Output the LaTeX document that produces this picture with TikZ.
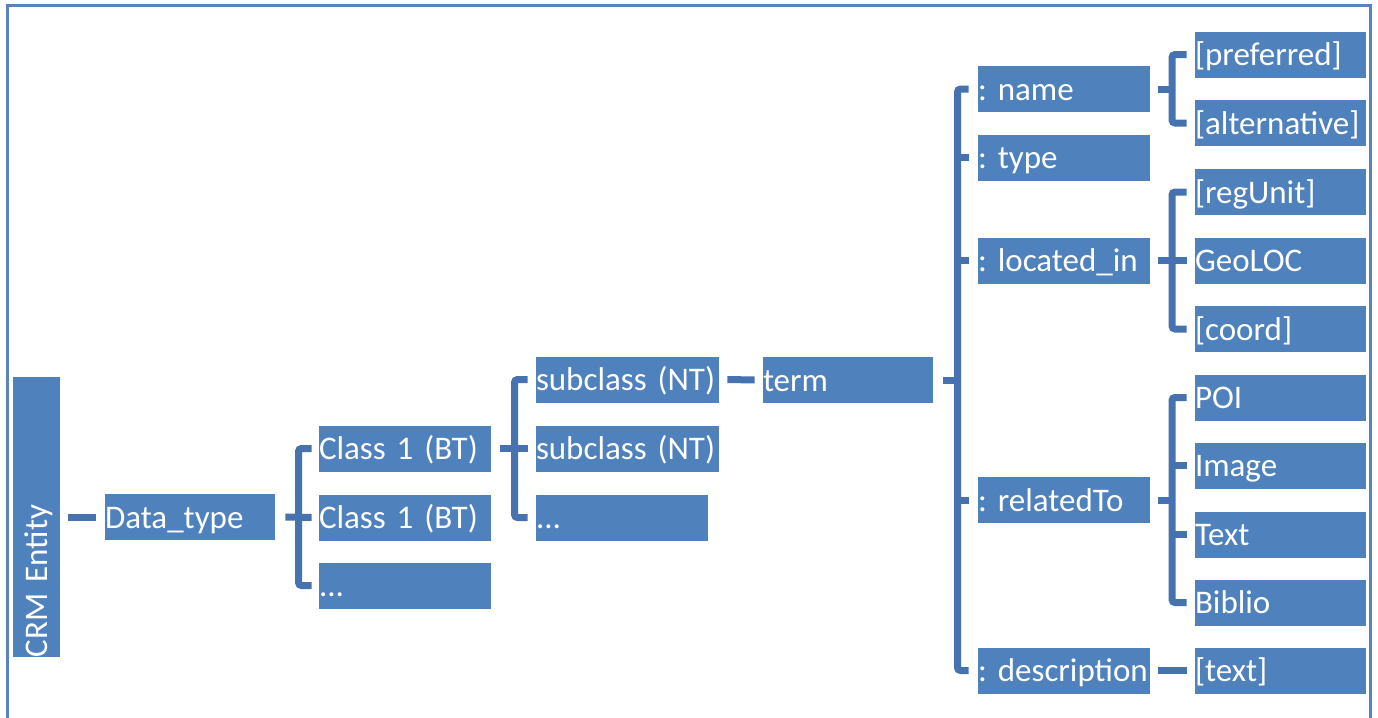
\documentclass[tikz,border=0pt]{standalone}
\usepackage{fontspec}
\setmainfont[WordSpace=0.7]{Carlito}
\frenchspacing
\hyphenpenalty=10000
\exhyphenpenalty=10000
\definecolor{boxblue}{HTML}{4F81BD}
\definecolor{brk}{HTML}{4672B0}
\definecolor{frm}{HTML}{5A82BC}
\tikzset{
  bx/.style={rectangle, fill=boxblue, text=white, inner xsep=0pt, inner ysep=0pt,
    minimum height=23pt, text height=13.5pt, text depth=2.5pt, align=left,
    font=\fontsize{16.5}{19}\selectfont},
  br/.style={draw=brk, line width=3.5pt, rounded corners=1.5pt},
  frame/.style={draw=frm, line width=1.5pt}
}
\begin{document}
\begin{tikzpicture}[x=0.5pt,y=-0.5pt]
\useasboundingbox (0,0) rectangle (1378,718);
\draw[frame] (7.5,720) -- (7.5,5.5) -- (1370,5.5) -- (1370,720);

% nodes
\node[bx, rotate=90, text width=140pt, minimum height=23.5pt] (crm) at (36.5,517) {CRM Entity};
\node[bx, text width=85pt] (dt) at (190,517) {Data\_type};
\node[bx, text width=86pt] (c1) at (405,448.5) {Class 1 (BT)};
\node[bx, text width=86pt] (c2) at (405,517.5) {Class 1 (BT)};
\node[bx, text width=86pt] (c3) at (405,585.5) {...};
\node[bx, text width=91.5pt] (s1) at (627.5,379.5) {subclass (NT)};
\node[bx, text width=91.5pt] (s2) at (627.5,448.5) {subclass (NT)};
\node[bx, text width=86pt] (s3) at (622,517.5) {...};
\node[bx, text width=85pt] (term) at (848,380) {term};

\node[bx, text width=86pt] (name) at (1064,89) {: name};
\node[bx, text width=86pt] (type) at (1064,157.5) {: type};
\node[bx, text width=86pt] (loc) at (1064,260.5) {: located\_in};
\node[bx, text width=86pt] (rel) at (1064,500) {: relatedTo};
\node[bx, text width=86pt] (desc) at (1064,670.5) {: description};

\node[bx, text width=85.5pt] (pref) at (1280.5,54.5) {[preferred]};
\node[bx, text width=85.5pt] (alt) at (1280.5,123) {[alternative]};
\node[bx, text width=85.5pt] (reg) at (1280.5,192) {[regUnit]};
\node[bx, text width=85.5pt] (geo) at (1280.5,260.5) {GeoLOC};
\node[bx, text width=85.5pt] (coord) at (1280.5,329) {[coord]};
\node[bx, text width=85.5pt] (poi) at (1280.5,397.5) {POI};
\node[bx, text width=85.5pt] (img) at (1280.5,465.5) {Image};
\node[bx, text width=85.5pt] (txt) at (1280.5,534.5) {Text};
\node[bx, text width=85.5pt] (bib) at (1280.5,602.5) {Biblio};
\node[bx, text width=85.5pt] (rtext) at (1280.5,670.5) {[text]};

% bracket joints
\coordinate (b1) at (298.5,517.5);
\coordinate (b2) at (514.5,448.5);
\coordinate (bb) at (957.5,380);
\coordinate (nb) at (1172,89);
\coordinate (lb) at (1172,260.5);
\coordinate (rb) at (1172,500);

% connectors
\draw[br] ([xshift=4pt]crm.south) -- ([xshift=-4.5pt]dt.west);

\draw[br] ([xshift=-3.5pt]c1.west) -| (b1) |- ([xshift=-3.5pt]c3.west);
\draw[br] ([xshift=5pt]dt.east) -- ([xshift=-3.5pt]c2.west);

\draw[br] ([xshift=-4pt]s1.west) -| (b2) |- ([xshift=-4pt]s3.west);
\draw[br] ([xshift=4.5pt]c1.east) -- ([xshift=-4pt]s2.west);

\draw[br] ([xshift=4pt]s1.east) -- ([xshift=-4pt]term.west);

\draw[br] ([xshift=-4.5pt]name.west) -| (bb) |- ([xshift=-4.5pt]desc.west);
\draw[br] ([xshift=5pt]term.east) -- (bb);
\draw[br] (type.west -| bb) -- ([xshift=-4.5pt]type.west);
\draw[br] (loc.west -| bb) -- ([xshift=-4.5pt]loc.west);
\draw[br] (rel.west -| bb) -- ([xshift=-4.5pt]rel.west);

\draw[br] ([xshift=-4pt]pref.west) -| (nb) |- ([xshift=-4pt]alt.west);
\draw[br] ([xshift=4pt]name.east) -- (nb);

\draw[br] ([xshift=-4pt]reg.west) -| (lb) |- ([xshift=-4pt]coord.west);
\draw[br] ([xshift=4pt]loc.east) -- ([xshift=-4pt]geo.west);

\draw[br] ([xshift=-4pt]poi.west) -| (rb) |- ([xshift=-4pt]bib.west);
\draw[br] ([xshift=4pt]rel.east) -- (rb);
\draw[br] (img.west -| rb) -- ([xshift=-4pt]img.west);
\draw[br] (txt.west -| rb) -- ([xshift=-4pt]txt.west);

\draw[br] ([xshift=4pt]desc.east) -- ([xshift=-4pt]rtext.west);
\end{tikzpicture}
\end{document}
